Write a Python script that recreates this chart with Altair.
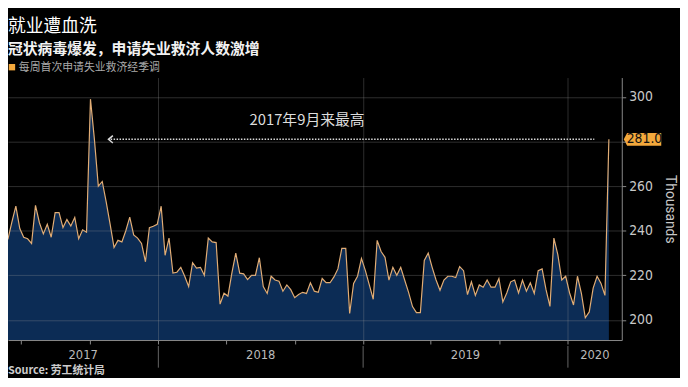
import altair as alt
import pandas as pd

# ---------------- data ----------------
TITLE = "就业遭血洗"
SUBTITLE = "冠状病毒爆发，申请失业救济人数激增"
LEGEND_LABEL = "每周首次申请失业救济经季调"
SOURCE = "Source: 劳工统计局"
Y_TITLE = "Thousands"
ANNOT_TEXT = "2017年9月来最高"

first_week = "2017-03-25"          # week-ending date of the first value
claims = [
    255.7, 236.4, 236.4, 244.0, 251.0, 241.0, 237.1, 236.4, 234.3, 251.4,
    243.6, 238.6, 242.9, 237.1, 248.1, 248.1, 241.4, 245.0, 242.1, 246.0,
    236.4, 240.4, 239.3, 299.0, 281.0, 260.0, 262.1, 253.0, 243.0, 232.5,
    235.7, 235.0, 240.0, 246.1, 238.1, 236.7, 234.3, 226.1, 241.4, 242.0,
    242.9, 251.0, 229.0, 236.7, 221.0, 221.4, 223.6, 219.6, 215.0, 225.7,
    223.3, 223.6, 220.0, 236.7, 235.0, 234.7, 207.1, 212.0, 210.7, 221.0,
    230.0, 221.0, 220.7, 218.1, 220.0, 220.0, 227.9, 215.0, 211.9, 219.6,
    217.9, 217.4, 212.9, 215.7, 213.6, 210.0, 211.4, 212.4, 211.9, 216.7,
    212.9, 212.4, 218.6, 216.7, 216.7, 219.3, 222.9, 232.1, 232.1, 202.9,
    216.4, 219.6, 227.6, 222.1, 215.7, 209.3, 235.7, 230.7, 228.1, 217.9,
    223.6, 220.0, 223.6, 217.9, 212.4, 206.0, 203.3, 203.3, 226.7, 230.0,
    223.6, 217.9, 213.3, 217.9, 219.6, 219.6, 219.0, 223.9, 222.1, 211.4,
    217.1, 211.0, 215.7, 214.7, 217.9, 214.7, 214.7, 218.6, 208.1, 212.1,
    217.1, 217.9, 212.1, 217.9, 212.9, 216.7, 211.9, 222.1, 222.9, 213.6,
    206.1, 236.7, 229.3, 217.9, 219.6, 212.1, 206.7, 219.6, 211.9, 201.0,
    203.6, 214.3, 219.6, 216.4, 211.0, 281.0,
]
years = [2017, 2018, 2019, 2020]
y_ticks = list(range(200, 301, 10))
x_domain = ["2017-04-08", "2020-04-06"]
y_domain = [191, 308.7]
last_value = 281.0
annot_from = "2017-10-08"
annot_to = "2020-02-17"
annot_label_date = "2018-09-23"
annot_label_value = 289.6

# ---------------- style ----------------
W, H = 622, 266
NAVY = "#0c2c55"
LINE = "#e2ad75"
ORANGE = "#f3a83c"
GRID = "#9a9a9a"
AXIS = "#8a8a8a"
TXT = "#c8c8c8"
FONT_CJK = "Noto Sans CJK SC"
FONT_NUM = "Liberation Sans Narrow, DejaVu Sans Condensed, sans-serif"


def dt(s):
    t = pd.Timestamp(s)
    return alt.DateTime(year=t.year, month=t.month, date=t.day)


df = pd.DataFrame({
    "date": pd.date_range(first_week, periods=len(claims), freq="7D"),
    "value": claims,
})

month_ticks = [dt(d) for d in pd.date_range("2017-05-01", "2020-04-01", freq="MS")]

xscale = alt.Scale(domain=[dt(x_domain[0]), dt(x_domain[1])])
yscale = alt.Scale(domain=y_domain, zero=False, nice=False)

x_axis = alt.Axis(
    values=month_ticks, labels=False, title=None, grid=True, gridColor=GRID,
    gridOpacity={"condition": {"test": "month(datum.value) % 3 === 0", "value": 0.3}, "value": 0},
    domainColor=AXIS, tickColor=AXIS, tickSize=4, zindex=1,
)
y_axis = alt.Axis(
    orient="right", values=y_ticks,
    labelExpr=f"datum.value % 20 === 0 && abs(datum.value - {last_value}) > 5 ? datum.label : ''",
    grid=True, gridColor=GRID,
    gridOpacity={"condition": {"test": "datum.value % 20 === 0", "value": 0.3}, "value": 0},
    domainColor=AXIS, tickColor=AXIS, tickSize=4, labelColor=TXT, labelFont=FONT_NUM,
    labelFontSize=14, labelPadding=3, title=Y_TITLE, titleAngle=90, titleFont="Roboto",
    titleFontSize=14, titleFontWeight="normal", titleColor=TXT, titlePadding=10, zindex=1,
)

area = alt.Chart(df).mark_area(color=NAVY, clip=True, opacity=1).encode(
    x=alt.X("date:T", scale=xscale, axis=x_axis),
    y=alt.Y("value:Q", scale=yscale, axis=y_axis),
    y2=alt.datum(y_domain[0]),
)
line = alt.Chart(df).mark_line(color=LINE, strokeWidth=1.2, clip=True).encode(
    x="date:T", y="value:Q",
)

# annotation: dotted arrow at the latest level
arrow_df = pd.DataFrame({
    "date": [pd.Timestamp(annot_from)], "date2": [pd.Timestamp(annot_to)], "value": [last_value],
})
arrow = alt.Chart(arrow_df).mark_rule(color="#dddddd", strokeWidth=1.6, strokeDash=[1.5, 1.5]).encode(
    x="date:T", x2="date2:T", y="value:Q",
)
head = alt.Chart(arrow_df).mark_point(
    shape="M0.6,-1L-0.6,0L0.6,1", size=55, filled=False, color="#dddddd", strokeWidth=1.5, opacity=1,
).encode(x="date:T", y="value:Q")

annot_df = pd.DataFrame({
    "date": [pd.Timestamp(annot_label_date)], "value": [annot_label_value], "label": [ANNOT_TEXT],
})
annot = alt.Chart(annot_df).mark_text(font=FONT_CJK, fontSize=15, color="#dddddd").encode(
    x="date:T", y="value:Q", text="label:N",
)

# last value tag on the axis
tag_df = pd.DataFrame({"value": [last_value]})
tag_box = alt.Chart(tag_df).mark_point(
    shape="M-1,0L-0.82,-0.34L1,-0.34L1,0.34L-0.82,0.34Z", size=1444, filled=True,
    color=ORANGE, opacity=1, strokeWidth=0,
).encode(x=alt.value(W + 21), y="value:Q")
tag_txt = alt.Chart(tag_df).mark_text(font=FONT_NUM, fontSize=14, color="#111111").encode(
    x=alt.value(W + 23), y="value:Q", text=alt.Text("value:Q", format=".1f"),
)

# year labels and separators
dom0, dom1 = pd.Timestamp(x_domain[0]), pd.Timestamp(x_domain[1])
mids = []
for yr in years:
    a = max(pd.Timestamp(f"{yr}-01-01"), dom0)
    b = min(pd.Timestamp(f"{yr + 1}-01-01"), dom1)
    mids.append(a + (b - a) / 2)
year_df = pd.DataFrame({"date": mids, "label": [str(y) for y in years]})
year_txt = alt.Chart(year_df).mark_text(font=FONT_NUM, fontSize=13, color="#bbbbbb").encode(
    x="date:T", y=alt.value(H + 15), text="label:N",
)
sep_df = pd.DataFrame({"date": [pd.Timestamp(f"{y}-01-01") for y in years[1:]]})
seps = alt.Chart(sep_df).mark_rule(color="#666666", strokeWidth=1).encode(
    x="date:T", y=alt.value(H + 6), y2=alt.value(H + 28),
)

# header and footer texts
head_df = pd.DataFrame({"t": [TITLE], "s": [SUBTITLE], "l": [LEGEND_LABEL], "src": [SOURCE]})
title_txt = alt.Chart(head_df).mark_text(
    font=FONT_CJK, fontSize=18, color="#ffffff", align="left", baseline="alphabetic",
).encode(x=alt.value(0), y=alt.value(-46.3), text="t:N")
sub_txt = alt.Chart(head_df).mark_text(
    font=FONT_CJK, fontSize=15, fontWeight="bold", color="#f2f2f2", align="left", baseline="alphabetic",
).encode(x=alt.value(0), y=alt.value(-23.7), text="s:N")
leg_sq = alt.Chart(head_df).mark_point(
    shape="square", size=42, filled=True, color=ORANGE, opacity=1,
).encode(x=alt.value(4), y=alt.value(-10.5))
leg_txt = alt.Chart(head_df).mark_text(
    font=FONT_CJK, fontSize=11, color="#aaaaaa", align="left", baseline="alphabetic",
).encode(x=alt.value(11), y=alt.value(-6.6), text="l:N")
src_txt = alt.Chart(head_df).mark_text(
    font=FONT_CJK, fontSize=11, fontWeight="bold", color="#cccccc", align="left", baseline="middle",
).encode(x=alt.value(0), y=alt.value(H + 31), text="src:N")

chart = alt.layer(
    area, line, arrow, head, annot, tag_box, tag_txt, year_txt, seps,
    title_txt, sub_txt, leg_sq, leg_txt, src_txt,
).properties(
    width=W, height=H, padding={"top": 7, "right": 3, "left": 0, "bottom": 0}
).configure(
    background="#000000"
).configure_view(strokeWidth=0)

chart.save("out.html", embed_options={"renderer": "svg", "actions": False})
